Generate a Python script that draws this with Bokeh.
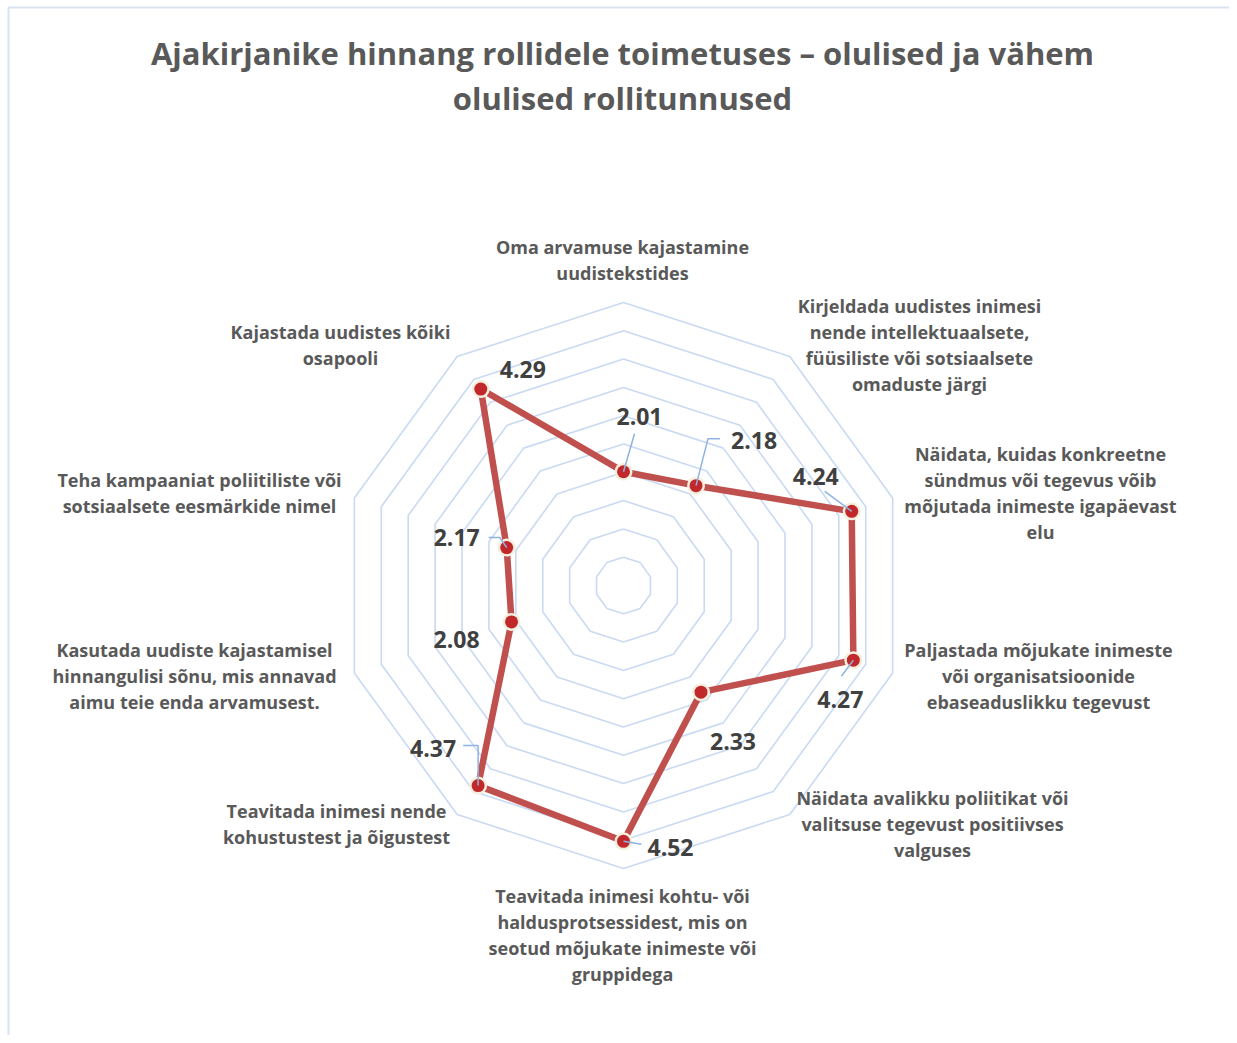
import math
from bokeh.plotting import figure
from bokeh.models import Range1d
from bokeh.core.properties import value
from bokeh.embed import file_html
from bokeh.resources import INLINE

# ---------------- data ----------------
categories = [
    "Oma arvamuse kajastamine\nuudistekstides",
    "Kirjeldada uudistes inimesi\nnende intellektuaalsete,\nfüüsiliste või sotsiaalsete\nomaduste järgi",
    "Näidata, kuidas konkreetne\nsündmus või tegevus võib\nmõjutada inimeste igapäevast\nelu",
    "Paljastada mõjukate inimeste\nvõi organisatsioonide\nebaseaduslikku tegevust",
    "Näidata avalikku poliitikat või\nvalitsuse tegevust positiivses\nvalguses",
    "Teavitada inimesi kohtu- või\nhaldusprotsessidest, mis on\nseotud mõjukate inimeste või\ngruppidega",
    "Teavitada inimesi nende\nkohustustest ja õigustest",
    "Kasutada uudiste kajastamisel\nhinnangulisi sõnu, mis annavad\naimu teie enda arvamusest.",
    "Teha kampaaniat poliitiliste või\nsotsiaalsete eesmärkide nimel",
    "Kajastada uudistes kõiki\nosapooli",
]
values = [2.01, 2.18, 4.24, 4.27, 2.33, 4.52, 4.37, 2.08, 2.17, 4.29]
ring_levels = [0.5, 1.0, 1.5, 2.0, 2.5, 3.0, 3.5, 4.0, 4.5, 5.0]
title_lines = ["Ajakirjanike hinnang rollidele toimetuses – olulised ja vähem",
               "olulised rollitunnused"]

# ---------------- layout ----------------
W, H = 1229, 1035
CX, CY = 623, 585          # centre of radar in figure pixels
UNIT = 56.6                # pixels per value unit
n = len(values)

def px(xp, yp):
    """figure pixel (from top-left) -> data coordinates"""
    return (xp - CX) / UNIT, (CY - yp) / UNIT

def polar(r, i):
    a = 2 * math.pi * i / n
    return r * math.sin(a), r * math.cos(a)

p = figure(width=W, height=H, output_backend="svg", toolbar_location=None,
           x_axis_location=None, y_axis_location=None, min_border=0,
           outline_line_color=None, background_fill_color="white")
p.x_range = Range1d(-CX / UNIT, (W - CX) / UNIT)
p.y_range = Range1d(-(H - CY) / UNIT, CY / UNIT)
p.grid.visible = False

# border of chart area (left & top)
bx0, by0 = px(8, 7)
bx1, by1 = px(W + 20, H + 20)
p.line([bx0, bx0, bx1], [by1, by0, by0], line_color="#D9E3F3", line_width=2)

# rings
for lv in ring_levels:
    xs = [polar(lv, i)[0] for i in range(n + 1)]
    ys = [polar(lv, i)[1] for i in range(n + 1)]
    p.line(xs, ys, line_color="#C9DAF2", line_width=1.6)

# series
sx = [polar(v, i)[0] for i, v in enumerate(values)]
sy = [polar(v, i)[1] for i, v in enumerate(values)]
p.line(sx + sx[:1], sy + sy[:1], line_color="#C0504D", line_width=6.5,
       line_join="round")
p.scatter(sx, sy, size=18, fill_color="#F3EEDD", line_color=None)
p.scatter(sx, sy, size=13, fill_color="#C1282B", line_color=None)

# data labels: offsets (pixels) from points
lab_off = [(16, -55), (58, -45), (-36, -35), (-13, 39), (32, 49),
           (47, 6), (-45, -37), (-55, 18), (-50, -10), (42, -20)]
lx, ly, lt = [], [], []
for i, v in enumerate(values):
    ox, oy = lab_off[i]
    lx.append(sx[i] + ox / UNIT)
    ly.append(sy[i] - oy / UNIT)
    lt.append(f"{v:.2f}")

# leader lines (pixels relative to point)
leaders = {
    0: [(0, 0), (11, -38)],
    1: [(0, 0), (12, -47), (24, -47)],
    2: [(0, 0), (-27, -20)],
    3: [(0, 0), (-12, 16)],
    5: [(0, 0), (18, 3)],
    6: [(-15, -40), (0, -40), (0, 0)],
    8: [(-18, -10), (-7, -10), (0, 0)],
}
for i, pts in leaders.items():
    p.line([sx[i] + a / UNIT for a, b in pts], [sy[i] - b / UNIT for a, b in pts],
           line_color="#8DB3E2", line_width=1.5)

p.text(lx, ly, text=lt, text_align="center", text_baseline="middle",
       text_font=value("Open Sans"), text_font_style="bold",
       text_font_size="23px", text_color="#404040")

# category labels: block centres (figure pixels)
cat_centre = [(622, 259), (919, 344), (1040, 492), (1038, 675), (932, 823),
              (622, 934), (336, 823), (194, 675), (199, 492), (340, 344)]
LH = 26
cx_, cy_, ct_ = [], [], []
for i, lab in enumerate(categories):
    lines = lab.split("\n")
    x0, y0 = cat_centre[i]
    top = y0 - LH * (len(lines) - 1) / 2
    for k, ln in enumerate(lines):
        dx, dy = px(x0, top + k * LH)
        cx_.append(dx); cy_.append(dy); ct_.append(ln)
p.text(cx_, cy_, text=ct_, text_align="center", text_baseline="middle",
       text_font=value("Open Sans"), text_font_style="bold",
       text_font_size="18px", text_color="#595959")

# title
tx, ty, tt = [], [], []
for k, ln in enumerate(title_lines):
    dx, dy = px(622, 52 + 45 * k)
    tx.append(dx); ty.append(dy); tt.append(ln)
p.text(tx, ty, text=tt, text_align="center", text_baseline="middle",
       text_font=value("Open Sans"), text_font_style="bold",
       text_font_size="31px", text_color="#595959")

open("out.html", "w").write(file_html(p, INLINE))
